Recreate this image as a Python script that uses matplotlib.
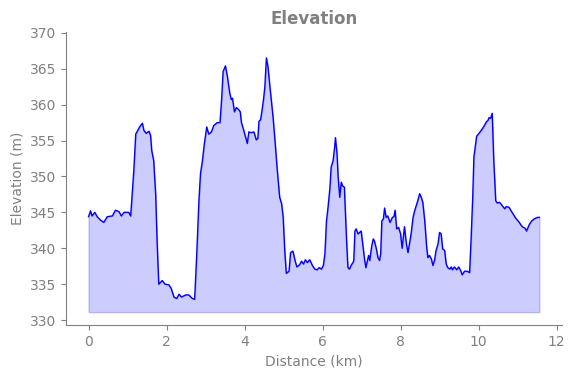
import matplotlib
matplotlib.use("Agg")
import matplotlib.pyplot as plt

# distance along route (km) and elevation (m)
distance_km = [
    0.00, 0.05, 0.09, 0.16, 0.22, 0.31, 0.39, 0.48, 0.61, 0.69, 0.78, 0.84,
    0.91, 1.03, 1.08, 1.16, 1.21, 1.26, 1.32, 1.38, 1.42, 1.48, 1.55, 1.59,
    1.62, 1.67, 1.72, 1.76, 1.80, 1.89, 1.96, 2.06, 2.12, 2.19, 2.26, 2.32,
    2.38, 2.49, 2.57, 2.66, 2.72, 2.77, 2.83, 2.87, 2.92, 2.97, 3.03, 3.08,
    3.15, 3.21, 3.30, 3.37, 3.41, 3.45, 3.51, 3.56, 3.62, 3.66, 3.69, 3.74,
    3.79, 3.85, 3.89, 3.92, 3.98, 4.03, 4.07, 4.11, 4.17, 4.24, 4.30, 4.34,
    4.37, 4.41, 4.44, 4.49, 4.52, 4.56, 4.60, 4.65, 4.73, 4.78, 4.84, 4.90,
    4.95, 4.99, 5.03, 5.07, 5.14, 5.18, 5.24, 5.29, 5.34, 5.41, 5.46, 5.51,
    5.56, 5.61, 5.67, 5.74, 5.80, 5.86, 5.91, 5.97, 6.02, 6.06, 6.10, 6.14,
    6.19, 6.22, 6.27, 6.31, 6.33, 6.37, 6.40, 6.44, 6.48, 6.51, 6.56, 6.58,
    6.62, 6.65, 6.69, 6.74, 6.78, 6.80, 6.83, 6.86, 6.91, 6.95, 6.99, 7.03,
    7.08, 7.11, 7.15, 7.18, 7.21, 7.26, 7.30, 7.33, 7.38, 7.42, 7.46, 7.49,
    7.52, 7.56, 7.59, 7.63, 7.67, 7.73, 7.79, 7.83, 7.86, 7.90, 7.95, 8.00,
    8.04, 8.07, 8.10, 8.15, 8.19, 8.24, 8.27, 8.32, 8.36, 8.40, 8.44, 8.49,
    8.53, 8.57, 8.62, 8.67, 8.70, 8.74, 8.79, 8.83, 8.87, 8.91, 8.96, 9.00,
    9.04, 9.08, 9.13, 9.17, 9.21, 9.26, 9.30, 9.33, 9.38, 9.44, 9.49, 9.54,
    9.58, 9.64, 9.71, 9.77, 9.81, 9.85, 9.88, 9.95, 10.01, 10.08, 10.14, 10.20,
    10.24, 10.27, 10.31, 10.35, 10.39, 10.44, 10.48, 10.54, 10.61, 10.67, 10.71, 10.78,
    10.86, 10.95, 11.03, 11.12, 11.19, 11.23, 11.30, 11.36, 11.43, 11.51, 11.56,
]
elevation_m = [
    344.4, 345.2, 344.5, 345.0, 344.4, 343.9, 343.6, 344.4, 344.5, 345.3, 345.1, 344.5,
    345.0, 345.0, 344.5, 350.8, 355.9, 356.4, 357.0, 357.4, 356.4, 356.0, 356.3, 355.7,
    353.6, 352.2, 347.6, 340.6, 335.0, 335.5, 335.0, 334.9, 334.4, 333.2, 333.0, 333.6,
    333.2, 333.5, 333.5, 333.0, 332.9, 338.7, 346.6, 350.4, 352.2, 354.6, 356.9, 355.9,
    356.2, 357.1, 357.5, 357.5, 360.6, 364.6, 365.4, 363.9, 361.6, 360.7, 360.9, 359.0,
    359.6, 359.3, 359.0, 357.5, 356.4, 355.4, 354.6, 356.2, 356.1, 356.2, 355.1, 355.3,
    357.7, 357.9, 358.9, 360.9, 362.5, 366.5, 365.3, 362.5, 358.3, 355.0, 350.8, 347.1,
    346.2, 344.3, 339.7, 336.5, 336.8, 339.4, 339.6, 338.4, 337.4, 337.7, 338.2, 337.8,
    338.4, 338.0, 338.4, 337.6, 337.1, 337.0, 337.3, 337.1, 337.6, 339.2, 343.8, 345.7,
    348.5, 351.3, 352.2, 354.1, 355.4, 353.2, 349.9, 347.1, 349.2, 348.7, 348.5, 345.7,
    340.6, 337.3, 337.1, 337.7, 338.0, 338.3, 342.4, 342.7, 342.0, 342.2, 342.4, 340.6,
    338.3, 337.3, 338.3, 339.0, 338.3, 340.3, 341.3, 341.0, 339.9, 338.7, 338.3, 339.2,
    343.8, 344.1, 345.6, 344.3, 344.5, 343.6, 344.3, 344.4, 345.3, 342.7, 342.9, 342.0,
    340.0, 341.5, 343.0, 340.6, 339.4, 341.0, 342.0, 344.3, 345.2, 345.9, 346.6, 347.6,
    347.1, 346.4, 343.8, 340.1, 338.7, 339.0, 338.5, 337.6, 338.3, 339.7, 340.6, 342.2,
    342.0, 339.9, 339.7, 337.8, 337.3, 337.1, 337.4, 337.0, 337.4, 337.0, 337.4, 336.9,
    336.3, 336.8, 336.8, 336.6, 341.5, 347.1, 352.7, 355.6, 356.0, 356.5, 357.0, 357.6,
    357.8, 358.2, 358.1, 358.8, 352.2, 346.6, 346.3, 346.4, 345.9, 345.5, 345.8, 345.7,
    345.0, 344.2, 343.7, 343.0, 342.8, 342.4, 343.3, 343.8, 344.1, 344.3, 344.3,
]
fill_base = 331.1

GREY = "#808080"

fig, ax = plt.subplots(figsize=(5.74, 3.78), dpi=100)
fig.subplots_adjust(left=0.115, right=0.979, bottom=0.14, top=0.915)

ax.fill_between(distance_km, elevation_m, fill_base, color="blue", alpha=0.2)
ax.plot(distance_km, elevation_m, color="blue", linewidth=1)

ax.set_ylim(329.3, 370.1)
ax.set_yticks([330, 335, 340, 345, 350, 355, 360, 365, 370])
ax.set_xticks([0, 2, 4, 6, 8, 10, 12])

ax.set_title("Elevation", fontsize=12, fontweight="bold", color=GREY)
ax.set_xlabel("Distance (km)", color=GREY)
ax.set_ylabel("Elevation (m)", color=GREY)

for side in ["top", "right"]:
    ax.spines[side].set_visible(False)
for side in ["left", "bottom"]:
    ax.spines[side].set_color(GREY)
ax.tick_params(colors=GREY)

fig.savefig("out.png", dpi=100)
